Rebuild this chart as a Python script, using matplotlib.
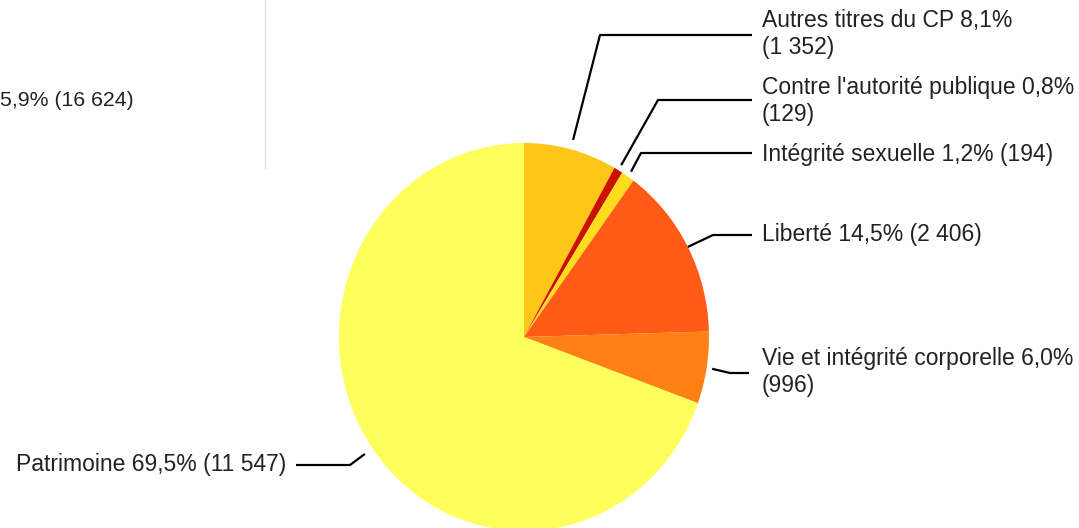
import numpy as np
import matplotlib
matplotlib.use("Agg")
import matplotlib.pyplot as plt

# data
categories = ["Autres titres du CP", "Contre l'autorité publique", "Intégrité sexuelle",
              "Liberté", "Vie et intégrité corporelle", "Patrimoine"]
counts = [1352, 129, 194, 2406, 996, 11547]
pct_labels = ["8,1%", "0,8%", "1,2%", "14,5%", "6,0%", "69,5%"]
count_labels = ["1 352", "129", "194", "2 406", "996", "11 547"]
total_label = "5,9% (16 624)"
colors = ["#FFC617", "#CC1100", "#FFDD1C", "#FF5B16", "#FF8015", "#FFFF5C"]

W, H = 1079, 528
K = 194 / 185  # the pie is a bit stretched vertically

def P(x, y):
    # reference pixel -> data coords
    return x, (H - y) / K

plt.rcParams['font.family'] = ['Liberation Sans', 'DejaVu Sans']

fig = plt.figure(figsize=(W / 100, H / 100), dpi=100)
ax = fig.add_axes([0, 0, 1, 1])

cx, cy = P(524, 337)
R = 185
wedges, _ = ax.pie(counts, colors=colors, startangle=90, counterclock=False,
                   radius=R, center=(cx, cy), wedgeprops=dict(linewidth=0))
ax.set_aspect('auto')
ax.set_xlim(0, W)
ax.set_ylim(0, H / K)
ax.axis('off')

# label layout: elbow point, line end, text x, text y, wrap, align
layout = [
    ((600, 35), (752, 35), 762, 34, True, 'left'),
    ((658, 100), (752, 100), 762, 101, True, 'left'),
    ((641, 153), (752, 153), 762, 155, False, 'left'),
    ((713, 235), (752, 235), 762, 235, False, 'left'),
    ((730, 373), (749, 373), 762, 372, True, 'left'),
    ((350, 465), (296, 465), 286, 465, False, 'right'),
]
start_f = [1.05, 1.03, 1.03, 1.0, 1.03, 1.05]
FS = 16.5

for i, w in enumerate(wedges):
    mid = np.deg2rad((w.theta1 + w.theta2) / 2)
    sx = cx + R * start_f[i] * np.cos(mid)
    sy = cy + R * start_f[i] * np.sin(mid)
    (ex, ey), (lx, ly), tx, ty, wrap, ha = layout[i]
    xs = [sx, P(ex, ey)[0], P(lx, ly)[0]]
    ys = [sy, P(ex, ey)[1], P(lx, ly)[1]]
    ax.plot(xs, ys, color='black', lw=1.6, solid_capstyle='butt')
    sep = "\n" if wrap else " "
    txt = f"{categories[i]} {pct_labels[i]}{sep}({count_labels[i]})"
    ax.text(*P(tx, ty), txt, ha=ha, va='center', fontsize=FS, color='#222222',
            linespacing=1.2)

# text cut off on the left, and the thin divider
ax.text(*P(0, 100), total_label, ha='left', va='center', fontsize=15.3, color='#222222')
ax.plot([P(265, 0)[0], P(265, 168)[0]], [P(265, 0)[1], P(265, 168)[1]], color='#e0e0e0', lw=1)

fig.savefig("out.png", dpi=100)
